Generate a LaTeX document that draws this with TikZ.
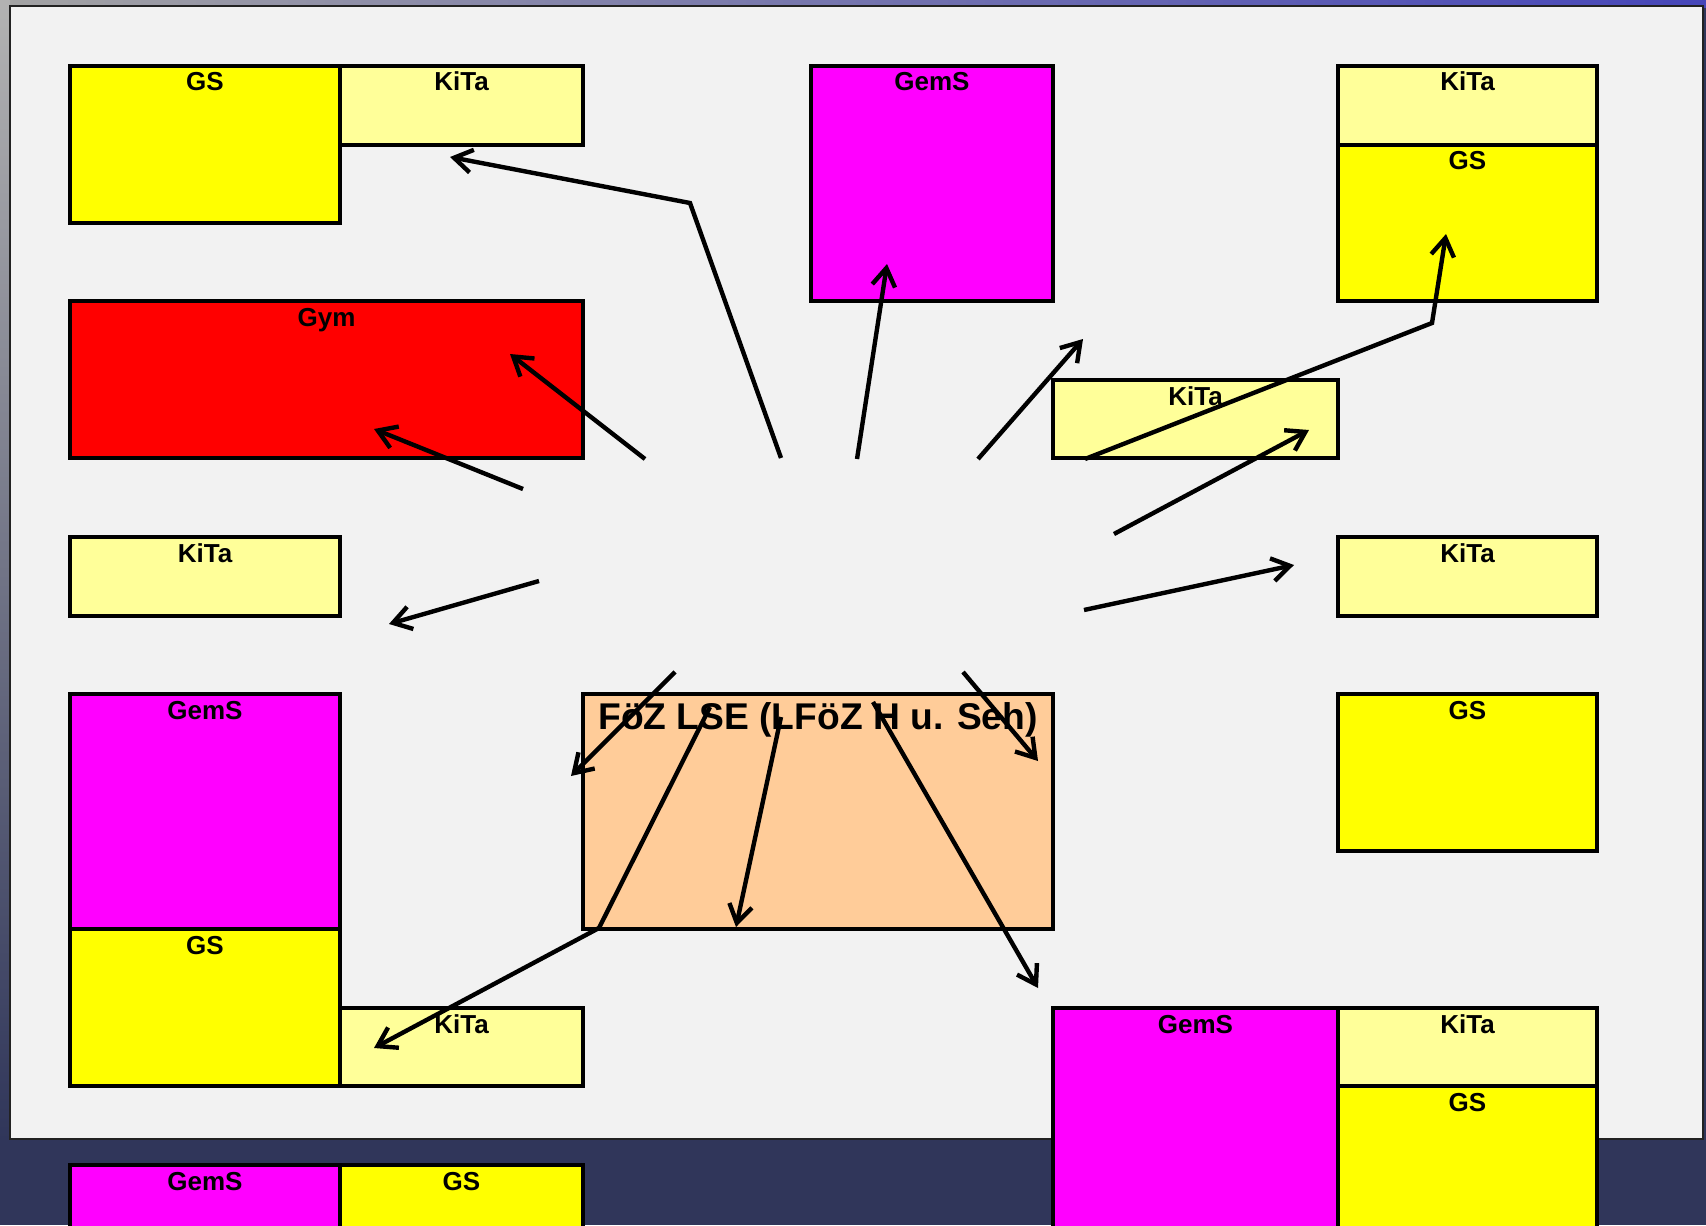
\documentclass[tikz,border=0pt]{standalone}
\usepackage{fontspec}
\setmainfont{Liberation Sans}
\usetikzlibrary{arrows.meta,calc}
\definecolor{panelgray}{HTML}{F2F2F2}
\definecolor{panelline}{HTML}{222222}
\definecolor{navy}{HTML}{30365A}
\definecolor{cyellow}{HTML}{FFFF00}
\definecolor{clight}{HTML}{FFFF99}
\definecolor{cmagenta}{HTML}{FF00FF}
\definecolor{cred}{HTML}{FF0000}
\definecolor{cpeach}{HTML}{FFCC99}
\newcommand\regbox[7]{%
  \node[box, fill=#6, anchor=north west,
        minimum width={(#4-#2)*0.5pt}, minimum height={(#5-#3)*0.5pt}] (#1) at (#2,#3) {};
  \node[lbl, anchor=base] (#1-t) at ($(#1.north)+(0,25)$) {#7};}
\begin{document}
\begin{tikzpicture}[x=0.5pt,y=-0.5pt,
  box/.style={rectangle, draw=black, line width=1.6pt, inner sep=0pt, outer sep=0pt},
  lbl/.style={font=\fontsize{13}{15}\selectfont\bfseries, inner sep=0pt},
  biglbl/.style={font=\fontsize{18.6}{21}\selectfont\bfseries, inner sep=0pt},
  arr/.style={line width=2.2pt, -{Straight Barb[length=9pt,width=11.5pt]}}]
\useasboundingbox (0,0) rectangle (1706,1225);
\clip (0,0) rectangle (1706,1225);
% background
\fill[navy] (0,0) rectangle (1706,1225);
\shade[left color=black!20!gray!60!white, right color=blue!45!gray] (0,0) rectangle (1706,8);
\shade[top color=gray!60!white, middle color=teal!30!gray!70!white, bottom color=navy] (0,0) rectangle (10,1140);
\draw[draw=panelline, line width=1pt, fill=panelgray] (10,6) rectangle (1703,1139);
% boxes
\regbox{gsA}{70}{66}{340}{223}{cyellow}{GS}
\regbox{kitaA}{340}{66}{583}{145}{clight}{KiTa}
\regbox{gemsA}{811}{66}{1053}{301}{cmagenta}{GemS}
\regbox{kitaB}{1338}{66}{1597}{145}{clight}{KiTa}
\regbox{gsB}{1338}{145}{1597}{301}{cyellow}{GS}
\regbox{gym}{70}{301}{583}{458}{cred}{Gym}
\regbox{kitaC}{1053}{380}{1338}{458}{clight}{KiTa}
\regbox{kitaD}{70}{537}{340}{616}{clight}{KiTa}
\regbox{kitaE}{1338}{537}{1597}{616}{clight}{KiTa}
\regbox{gemsB}{70}{694}{340}{929}{cmagenta}{GemS}
\regbox{gsC}{70}{929}{340}{1086}{cyellow}{GS}
\regbox{kitaF}{340}{1008}{583}{1086}{clight}{KiTa}
\regbox{gsD}{1338}{694}{1597}{851}{cyellow}{GS}
\regbox{gemsC}{1053}{1008}{1338}{1250}{cmagenta}{GemS}
\regbox{kitaG}{1338}{1008}{1597}{1086}{clight}{KiTa}
\regbox{gsE}{1338}{1086}{1597}{1250}{cyellow}{GS}
\regbox{gemsD}{70}{1165}{340}{1250}{cmagenta}{GemS}
\regbox{gsF}{340}{1165}{583}{1250}{cyellow}{GS}
\node[box, fill=cpeach, anchor=north west, minimum width={470*0.5pt}, minimum height={235*0.5pt}] (foez) at (583,694) {};
\node[biglbl, anchor=base] (foez-t) at ($(foez.north)+(0,35)$) {FöZ LSE (LFöZ H u. Seh)};
% arrow coordinates
\coordinate (s1) at (781,458); \coordinate (b1) at (690,203); \coordinate (t1) at (450,157);
\coordinate (s2) at (645,459); \coordinate (t2) at (510,354);
\coordinate (s3) at (523,489); \coordinate (t3) at (374,429);
\coordinate (s4) at (539,581); \coordinate (t4) at (389,624);
\coordinate (s5) at (857,459); \coordinate (t5) at (887,264);
\coordinate (s6) at (978,459); \coordinate (t6) at (1083,339);
\coordinate (s7) at (1085,459); \coordinate (b7) at (1432,323); \coordinate (t7) at (1446,234);
\coordinate (s8) at (1114,534); \coordinate (t8) at (1309,430);
\coordinate (s9) at (1084,610); \coordinate (t9) at (1294,565);
\coordinate (s10) at (675,672); \coordinate (t10) at (571,776);
\coordinate (s11) at (963,672); \coordinate (t11) at (1038,761);
\coordinate (s12) at (781,717); \coordinate (t12) at (736,927);
\coordinate (s13) at (710,707); \coordinate (b13) at (599,928); \coordinate (t13) at (374,1048);
\coordinate (s14) at (873,702); \coordinate (t14) at (1038,988);
% arrows
\draw[arr] (s1) -- (b1) -- (t1);
\draw[arr] (s2) -- (t2);
\draw[arr] (s3) -- (t3);
\draw[arr] (s4) -- (t4);
\draw[arr] (s5) -- (t5);
\draw[arr] (s6) -- (t6);
\draw[arr] (s7) -- (b7) -- (t7);
\draw[arr] (s8) -- (t8);
\draw[arr] (s9) -- (t9);
\draw[arr] (s10) -- (t10);
\draw[arr] (s11) -- (t11);
\draw[arr] (s12) -- (t12);
\draw[arr] (s13) -- (b13) -- (t13);
\draw[arr] (s14) -- (t14);
\end{tikzpicture}
\end{document}
